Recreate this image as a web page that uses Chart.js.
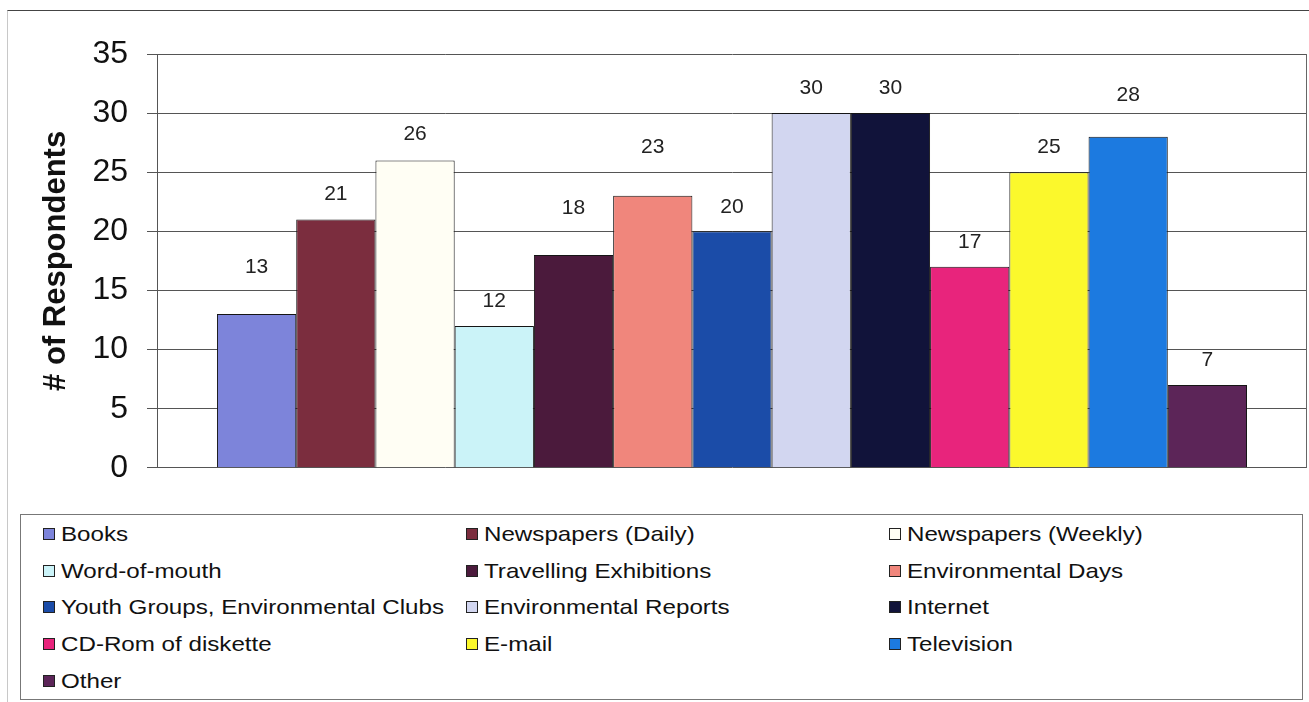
<!DOCTYPE html>
<html>
<head>
<meta charset="utf-8">
<script src="https://cdn.jsdelivr.net/npm/chart.js@4.4.1/dist/chart.umd.min.js"></script>
<style>
    html, body { margin: 0; padding: 0; background: #fff; }
    body { width: 1309px; height: 702px; position: relative; overflow: hidden; font-family: 'Liberation Sans', Arial, sans-serif; }
    .frame { position: absolute; left: 7px; top: 10px; width: 1310px; height: 700px; border-top: 1px solid #444; border-left: 1px solid #c8c8c8; box-sizing: border-box; }
    #chartWrap { position: absolute; left: 0; top: 0; width: 1309px; height: 506px; }
    #legendBox {
        position: absolute; left: 20px; top: 514px; width: 1283px; height: 186px;
        border: 1px solid #777; box-sizing: border-box;
        display: grid; grid-template-columns: 423px 423px 423px; grid-auto-rows: 36.6px;
        padding: 1px 0 0 22px;
    }
    .legend-item { display: flex; align-items: center; font-size: 21px; color: #111; white-space: nowrap; }
    .legend-item span.txt { display: inline-block; transform: scaleX(1.15); transform-origin: left center; }
    .legend-swatch { width: 10px; height: 10px; border: 1px solid #222; margin-right: 6px; flex: none; }
</style>
</head>
<body>
<div class="frame"></div>
<div id="chartWrap"><canvas id="sourcesChart" width="1309" height="506"></canvas></div>
<div id="legendBox"></div>

<script>
// ─── Data ────────────────────────────────────────────────────────────────────
const sources = [
    'Books', 'Newspapers (Daily)', 'Newspapers (Weekly)',
    'Word-of-mouth', 'Travelling Exhibitions', 'Environmental Days',
    'Youth Groups, Environmental Clubs', 'Environmental Reports', 'Internet',
    'CD-Rom of diskette', 'E-mail', 'Television',
    'Other'
];
const respondents = [13, 21, 26, 12, 18, 23, 20, 30, 30, 17, 25, 28, 7];
const yTicks = [0, 5, 10, 15, 20, 25, 30, 35];

const barColors = [
    '#7d84da', '#7b2d3e', '#fffef4',
    '#cbf3f8', '#4b1a3c', '#f0867c',
    '#1b4ca8', '#d2d6f0', '#11133a',
    '#e8247c', '#fbf82c', '#1c7ae0',
    '#5c2558'
];
// how far each value label sits above its bar (px)
const labelLift = [47, 25, 26, 25, 47, 49, 24, 25, 25, 25, 25, 42, 25];

const FONT = "'Liberation Sans', Arial, sans-serif";

// ─── Value labels above bars ────────────────────────────────────────────────
const valueLabels = {
    id: 'valueLabels',
    afterDatasetsDraw(chart) {
        const ctx = chart.ctx;
        ctx.save();
        ctx.font = '21px ' + FONT;
        ctx.fillStyle = '#222';
        ctx.textAlign = 'center';
        ctx.textBaseline = 'middle';
        chart.data.datasets.forEach((ds, i) => {
            const bar = chart.getDatasetMeta(i).data[0];
            if (!bar) return;
            ctx.fillText(String(ds.data[0]), bar.x, bar.y - labelLift[i]);
        });
        ctx.restore();
    }
};

// right edge of the plot area
const plotEdge = {
    id: 'plotEdge',
    beforeDatasetsDraw(chart) {
        const { ctx, chartArea } = chart;
        ctx.save();
        ctx.strokeStyle = '#666';
        ctx.lineWidth = 1;
        ctx.beginPath();
        ctx.moveTo(chartArea.right - 0.5, chartArea.top);
        ctx.lineTo(chartArea.right - 0.5, chartArea.bottom);
        ctx.stroke();
        ctx.restore();
    }
};

const ctx = document.getElementById('sourcesChart');
const chart = new Chart(ctx.getContext('2d'), {
    type: 'bar',
    data: {
        labels: [''],
        datasets: sources.map((name, i) => ({
            label: name,
            data: [respondents[i]],
            backgroundColor: barColors[i],
            borderColor: '#151515',
            borderWidth: 1,
            borderSkipped: 'bottom'
        }))
    },
    options: {
        responsive: false,
        animation: false,
        layout: { padding: { top: 54, right: 2, bottom: 12, left: 0 } },
        datasets: { bar: { categoryPercentage: 0.8957, barPercentage: 1 } },
        plugins: {
            legend: { display: false },
            tooltip: { enabled: false }
        },
        scales: {
            x: {
                ticks: { display: false },
                grid: { display: false },
                border: { display: false },
                afterFit: (scale) => { scale.height = 0; }
            },
            y: {
                min: 0,
                max: 35,
                afterBuildTicks: (scale) => { scale.ticks = yTicks.map(v => ({ value: v })); },
                ticks: {
                    padding: 19,
                    color: '#111',
                    font: { family: FONT, size: 32 }
                },
                grid: { color: '#555', lineWidth: 1, tickLength: 10 },
                border: { display: true, color: '#555', width: 1 },
                title: {
                    display: true,
                    text: '# of Respondents',
                    color: '#111',
                    padding: { top: 38, bottom: 0 },
                    font: { family: FONT, size: 31, weight: 'bold' }
                },
                afterFit: (scale) => { scale.width = 157; }
            }
        }
    },
    plugins: [plotEdge, valueLabels]
});

// ─── Legend (3 columns, row-major like the dataset order) ───────────────────
const legendBox = document.getElementById('legendBox');
chart.data.datasets.forEach(ds => {
    const item = document.createElement('div');
    item.className = 'legend-item';
    const sw = document.createElement('span');
    sw.className = 'legend-swatch';
    sw.style.background = ds.backgroundColor;
    const txt = document.createElement('span');
    txt.className = 'txt';
    txt.textContent = ds.label;
    item.appendChild(sw);
    item.appendChild(txt);
    legendBox.appendChild(item);
});
</script>
</body>
</html>
